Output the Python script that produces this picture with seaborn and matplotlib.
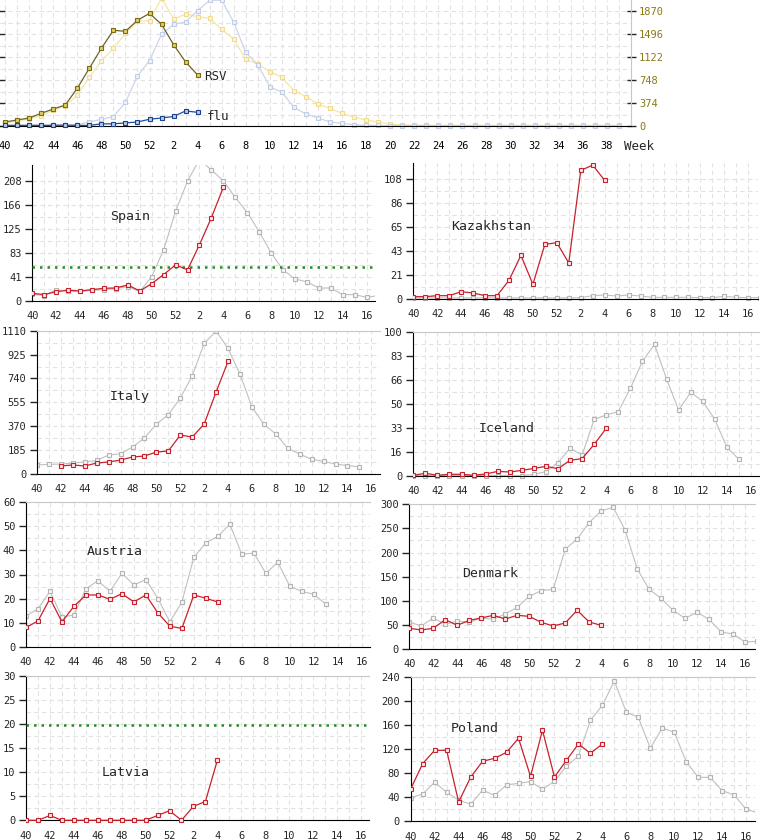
import matplotlib
matplotlib.use("Agg")
import matplotlib.pyplot as plt
from matplotlib.patches import Rectangle
from matplotlib.ticker import FixedLocator, NullFormatter
import numpy as np
import seaborn as sns

W, H = 760, 840

# season axis: week 40 .. 52, then 1 .. 39
season_weeks = list(range(40, 53)) + list(range(1, 40))

# ---- overview panel (RSV / flu), current and previous season ----
rsv_now = [65, 98, 130, 206, 276, 341, 613, 938, 1263, 1556, 1540, 1718, 1832,
           1653, 1323, 1041, 829]
flu_now = [10, 10, 10, 10, 10, 14, 10, 10, 35, 35, 50, 65, 110,
           130, 155, 245, 222]
rsv_prev = [54, 76, 119, 163, 260, 325, 504, 791, 1057, 1263, 1507, 1707, 1713,
            2080, 1740, 1821, 1778, 1751, 1572, 1409, 1084, 1003, 883, 791, 574,
            477, 358, 287, 206, 141, 98, 65,
            30, 20, 15, 12, 10, 10, 10, 10, 10, 10, 10, 10, 10, 10, 10, 10, 10, 10, 10, 10]
flu_prev = [10, 10, 12, 15, 15, 18, 20, 65, 108, 152, 385, 813, 1062,
            1491, 1653, 1691, 1875, 2045, 2045, 1686, 1198, 992, 639, 548, 304,
            195, 130, 65, 43, 22, 10, 10,
            5, 5, 5, 5, 5, 5, 5, 5, 5, 5, 5, 5, 5, 5, 5, 5, 5, 5, 5, 5]
overview_ticks = [0, 374, 748, 1122, 1496, 1870]

# ---- country panels: current season (red) and previous season (grey) ----
spain_now = [12.8, 10.5, 15.7, 18.0, 16.8, 19.2, 21.5, 22.1, 27.3, 16.8, 29.6, 45.3, 62.2,
             53.5, 97.0, 144.0, 196.5]
spain_prev = [11, 9, 19, 17, 16, 18, 19, 21, 24.4, 16, 41.8, 88.3, 155,
              207.4, 245, 226.6, 208, 179, 152.8, 119.7, 83, 53.5, 37.8, 32.5, 22, 22,
              10.5, 10.5, 5.8, 9]
spain_threshold = 58.1
spain_yticks = ["0", "41", "83", "125", "166", "208"]

kaz_now = [2.1, 2.1, 3.0, 3.0, 6.6, 5.4, 3.0, 3.0, 16.8, 39.4, 13.2, 49.3, 50.8,
           32.5, 116.0, 120.8, 107.0]
kaz_prev = [1, 1, 1, 1, 1, 1, 1, 1, 1, 1, 1, 1, 1,
            1, 1.2, 3.0, 3.6, 2.7, 3.6, 2.7, 1.5, 1.5, 1.5, 1.5, 1.2, 1.2, 2.4, 1.5, 1.2, 1.2]
kaz_yticks = ["0", "21", "43", "65", "86", "108"]

italy_now = [62, 70, 62, 85, 93, 108, 132, 139, 170, 178, 302,
             286, 387, 635, 872]
italy_prev = [70, 75, 77, 85, 93, 105, 147, 157, 209, 279, 387,
              459, 588, 761, 1012, 1107, 973, 774, 519, 385, 310, 199, 155, 114, 98,
              77, 65, 55]
italy_yticks = ["0", "185", "370", "555", "740", "925", "1110"]

iceland_now = [0.5, 1.9, 0.5, 1.2, 1.2, 0.5, 1.4, 3.2, 2.8, 3.9, 5.3, 6.7, 5.1,
               10.9, 12.1, 22.0, 33.2]
iceland_prev = [0.3, 0.3, 0.3, 0.3, 0.3, 0.3, 0.3, 0.3, 0.3, 0.2, 1.2, 3.0, 9.3,
                19.3, 14.6, 39.4, 42.5, 44.8, 61.0, 79.8, 91.6, 67.5, 45.9, 58.2, 52.0,
                39.4, 20.0, 11.6]
iceland_yticks = ["0", "16", "33", "50", "66", "83", "100"]

austria_now = [8.0, 10.7, 20.0, 10.3, 16.8, 21.5, 21.5, 19.7, 22.0, 18.6, 21.5, 14.0, 8.5,
               7.6, 21.5, 20.1, 18.6]
austria_prev = [12.8, 15.7, 23.0, 12.3, 13.2, 24.1, 27.4, 23.0, 30.5, 25.6, 27.9, 20.0, 10.3,
                18.6, 37.1, 43.2, 45.9, 50.9, 38.4, 38.9, 30.5, 35.1, 25.1, 23.0, 21.8, 17.7]
austria_yticks = ["0", "10", "20", "30", "40", "50", "60"]

denmark_now = [42.9, 39.4, 42.9, 60.8, 49.1, 59.4, 64.3, 69.8, 62.2, 69.8, 67.7, 55.3, 47.7,
               53.9, 80.2, 56.0, 49.1]
denmark_prev = [56.0, 47.7, 64.3, 51.1, 58.0, 55.3, 64.3, 61.5, 72.6, 86.4, 109.2, 121.0, 123.7,
                206.7, 228.1, 262.0, 286.2, 293.8, 246.8, 166.6, 123.7, 105.1, 80.2, 63.6,
                76.0, 61.5, 35.3, 31.1, 14.5, 16.0]
denmark_yticks = ["0", "50", "100", "150", "200", "250", "300"]

latvia_now = [0, 0, 1.0, 0, 0, 0, 0, 0, 0, 0, 0, 1.0, 2.0,
              0, 2.9, 3.9, 12.5]
latvia_threshold = 19.9
latvia_yticks = ["0", "5", "10", "15", "20", "25", "30"]

poland_now = [53.9, 96.1, 118.3, 118.3, 32.2, 73.3, 100.0, 105.0, 115.0, 138.3, 75.0, 151.7, 73.9,
              101.7, 128.9, 113.3, 128.9]
poland_prev = [38.9, 45.6, 65.0, 48.3, 35.6, 28.3, 51.7, 43.3, 60.6, 63.3, 66.1, 53.3, 66.7,
               91.7, 108.9, 168.3, 193.3, 233.9, 181.7, 173.3, 121.7, 155.6, 148.3, 99.4,
               73.3, 73.3, 51.1, 43.9, 20.0, 14.0]
poland_yticks = ["0", "40", "80", "120", "160", "200", "240"]

# name, current, start index of current, previous, y tick labels, ylim top, threshold
panels = [
    ("Spain", spain_now, 0, spain_prev, spain_yticks, 235.3, spain_threshold),
    ("Kazakhstan", kaz_now, 0, kaz_prev, kaz_yticks, 122.7, None),
    ("Italy", italy_now, 2, italy_prev, italy_yticks, None, None),
    ("Iceland", iceland_now, 0, iceland_prev, iceland_yticks, None, None),
    ("Austria", austria_now, 0, austria_prev, austria_yticks, None, None),
    ("Denmark", denmark_now, 0, denmark_prev, denmark_yticks, None, None),
    ("Latvia", latvia_now, 0, None, latvia_yticks, None, latvia_threshold),
    ("Poland", poland_now, 0, poland_prev, poland_yticks, None, None),
]

# layout in pixels: left spine, top, right edge, x axis line, week spacing
boxes = {
    "Spain": (32.3, 165.0, 375, 300.7, 11.94),
    "Kazakhstan": (413.3, 163.0, 758, 299.0, 11.96),
    "Italy": (37.0, 330.7, 380, 474.0, 11.94),
    "Iceland": (413.3, 332.3, 760, 476.0, 12.06),
    "Austria": (26.0, 502.3, 370, 646.7, 11.99),
    "Denmark": (409.3, 504.3, 755, 649.0, 11.99),
    "Latvia": (26.0, 676.0, 369, 820.3, 11.96),
    "Poland": (410.7, 677.3, 755, 821.3, 11.98),
}
label_pos = {
    "Spain": (129.7, 216.7), "Kazakhstan": (490.8, 226.7),
    "Italy": (129.7, 396.7), "Iceland": (506.8, 428.3),
    "Austria": (115.0, 551.7), "Denmark": (490.5, 573.3),
    "Latvia": (125.7, 772.3), "Poland": (474.8, 729.0),
}

RED, RED_FACE = "#c8202c", "#fde6e6"
GREY, GREY_EDGE, GREY_FACE = "#c0c0c0", "#b4b4b4", "#f6f6f6"
GREEN = "#2a8a2a"
GRID = "#e2e2e2"
OLIVE_TXT = "#8a7a14"

sns.set_style("white")
plt.rcParams["font.family"] = ["DejaVu Sans Mono", "DejaVu Sans"]

PT = 72 / 100  # points per pixel at dpi 100


def px_axes(fig, left, top, right, bottom):
    return fig.add_axes([left / W, 1 - bottom / H, (right - left) / W, (bottom - top) / H])


def draw_series(ax, values, start, color, edge, face, z, ms=3.1, lw=0.9):
    x = list(range(start, start + len(values)))
    sns.lineplot(x=x, y=values, ax=ax, color=color, linewidth=lw, marker="s",
                 markersize=ms, markeredgecolor=edge, markerfacecolor=face,
                 markeredgewidth=0.8, errorbar=None, sort=False, zorder=z)


def clip_below(ax, extra):
    for line in ax.lines:
        line.set_clip_path(Rectangle((0, -extra), 1, 1 + extra, transform=ax.transAxes))


def grid_style(ax):
    ax.grid(True, which="both", color=GRID, linestyle=(0, (4, 3)), linewidth=0.8)
    ax.set_axisbelow(True)


fig = plt.figure(figsize=(W / 100, H / 100), dpi=100)

# ---------------- overview panel ----------------
ax0 = px_axes(fig, 0, 0, 631, 126)
draw_series(ax0, rsv_prev, 0, "#f6e6a4", "#f0dc90", "#fcf4d8", 2)
draw_series(ax0, flu_prev, 0, "#ccd5ea", "#c2cde6", "#eef2fa", 2)
draw_series(ax0, rsv_now, 0, "#6b6428", "#7a6c10", "#e0cc60", 4)
draw_series(ax0, flu_now, 0, "#2050a0", "#1a3f8a", "#b8cce8", 4)
clip_below(ax0, 0.1)
ax0.set_xlim(-0.42, 52)
ax0.set_ylim(0, 2049)
ax0.set_xlabel("")
ax0.set_ylabel("")
ax0.xaxis.set_major_locator(FixedLocator(range(53)))
ax0.set_xticklabels([str(w) if (i % 2 == 0 and i < 52) else ""
                     for i, w in enumerate(season_weeks + [40])])
ax0.yaxis.set_major_locator(FixedLocator(overview_ticks))
ax0.yaxis.set_minor_locator(FixedLocator([187 + 374 * k for k in range(6)]))
ax0.yaxis.set_minor_formatter(NullFormatter())
ax0.tick_params(axis="x", direction="out", length=11 * PT, width=1, labelsize=7.5,
                pad=3.0, colors="black")
ax0.tick_params(axis="y", which="major", left=True, right=True, labelleft=False,
                labelright=True, direction="inout", length=9 * PT, width=1,
                labelsize=7.5, pad=2.5, labelcolor=OLIVE_TXT)
ax0.tick_params(axis="y", which="minor", left=False, right=False)
ax0.set_yticklabels([str(v) for v in overview_ticks])
grid_style(ax0)
for s in ("top", "left"):
    ax0.spines[s].set_visible(False)
ax0.spines["bottom"].set_color("black")
ax0.spines["right"].set_color("#c8c8c8")
ax0.text(len(rsv_now) - 1 + 0.55, rsv_now[-1] - 20, "RSV", fontsize=9,
         va="center", ha="left")
ax0.text(len(flu_now) - 1 + 0.75, flu_now[-1] - 60, "flu", fontsize=9,
         va="center", ha="left")
fig.text(639 / W, 1 - 146 / H, "Week", fontsize=9, ha="center", va="center")

# ---------------- country panels ----------------
for name, now, start, prev, ylabels, ytop, thr in panels:
    left, top, right, bottom, step = boxes[name]
    ax = px_axes(fig, left, top, right, bottom)
    if prev is not None:
        draw_series(ax, prev, 0, GREY, GREY_EDGE, GREY_FACE, 2, lw=0.8)
    draw_series(ax, now, start, RED, RED, RED_FACE, 4)
    if thr is not None:
        ax.axhline(thr, color=GREEN, linestyle=(0, (1, 2)), linewidth=1.8, zorder=3)
    clip_below(ax, 0.06)

    n = len(ylabels)
    top_tick = float(ylabels[-1])
    yt = np.linspace(0, top_tick, n)
    ax.set_xlim(0, (right - left) / step)
    ax.set_ylim(0, ytop if ytop is not None else top_tick)
    ax.set_xlabel("")
    ax.set_ylabel("")
    ax.xaxis.set_major_locator(FixedLocator(range(29)))
    ax.set_xticklabels([str(w) if i % 2 == 0 else "" for i, w in enumerate(season_weeks[:29])])
    ax.yaxis.set_major_locator(FixedLocator(yt))
    ax.set_yticklabels(ylabels)
    ax.yaxis.set_minor_locator(FixedLocator((yt[:-1] + yt[1:]) / 2))
    ax.yaxis.set_minor_formatter(NullFormatter())
    ax.tick_params(axis="x", direction="inout", length=8 * PT, width=1, labelsize=7.5, pad=4.5)
    ax.tick_params(axis="y", which="major", direction="out", length=7 * PT, width=1,
                   labelsize=7.5, pad=2.6, left=True)
    ax.tick_params(axis="y", which="minor", left=False)
    grid_style(ax)
    ax.spines["right"].set_visible(False)
    if ytop is not None:
        ax.spines["top"].set_visible(False)
    else:
        ax.spines["top"].set_color("#c8c8c8")
    ax.spines["left"].set_color("black")
    ax.spines["bottom"].set_color("black")

    lx, ly = label_pos[name]
    fig.text(lx / W, 1 - ly / H, name, fontsize=9.5, ha="center", va="center")

fig.savefig("out.png", dpi=100)
